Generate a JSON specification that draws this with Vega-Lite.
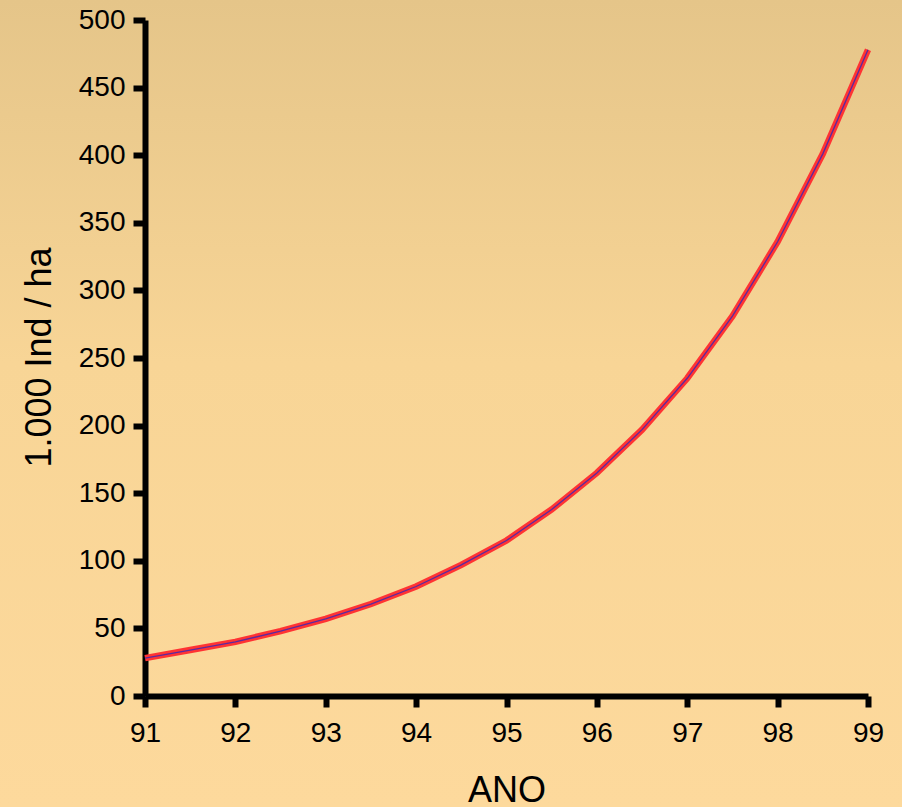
{
  "$schema": "https://vega.github.io/schema/vega-lite/v6.json",
  "width": 902,
  "height": 807,
  "autosize": {"type": "none"},
  "padding": 0,
  "background": "#F6D396",
  "config": {
    "font": "Liberation Sans",
    "view": {
      "stroke": null,
      "fill": {
        "gradient": "linear",
        "x1": 0, "y1": 0, "x2": 0, "y2": 1,
        "stops": [
          {"offset": 0, "color": "#E5C589"},
          {"offset": 0.45, "color": "#F8D596"},
          {"offset": 1, "color": "#FDD99C"}
        ]
      }
    },
    "axis": {
      "grid": false,
      "labelFlush": false,
      "labelOverlap": false,
      "domainColor": "#000000",
      "domainWidth": 6,
      "tickColor": "#000000",
      "tickWidth": 6,
      "labelColor": "#000000",
      "labelFont": "Liberation Sans",
      "labelFontSize": 28,
      "titleFont": "Liberation Sans",
      "titleFontSize": 36,
      "titleFontWeight": "normal",
      "titleColor": "#000000"
    }
  },
  "data": {
    "values": [
      {"ano": 91, "v": 28},
      {"ano": 91.5, "v": 34},
      {"ano": 92, "v": 40},
      {"ano": 92.5, "v": 48},
      {"ano": 93, "v": 57},
      {"ano": 93.5, "v": 68},
      {"ano": 94, "v": 81},
      {"ano": 94.5, "v": 97},
      {"ano": 95, "v": 115},
      {"ano": 95.5, "v": 138},
      {"ano": 96, "v": 165},
      {"ano": 96.5, "v": 197},
      {"ano": 97, "v": 235},
      {"ano": 97.5, "v": 281},
      {"ano": 98, "v": 336},
      {"ano": 98.5, "v": 401},
      {"ano": 99, "v": 478}
    ]
  },
  "encoding": {
    "x": {
      "field": "ano",
      "type": "quantitative",
      "scale": {"domain": [91, 99], "range": [145, 868], "nice": false, "zero": false},
      "axis": {
        "title": "ANO",
        "offset": -111,
        "values": [91, 92, 93, 94, 95, 96, 97, 98, 99],
        "format": "d",
        "tickSize": 11,
        "labelPadding": 12,
        "titleBaseline": "alphabetic",
        "titleY": 105
      }
    },
    "y": {
      "field": "v",
      "type": "quantitative",
      "scale": {"domain": [0, 500], "range": [696, 20], "nice": false},
      "axis": {
        "title": "1.000 Ind / ha",
        "offset": -145,
        "values": [0, 50, 100, 150, 200, 250, 300, 350, 400, 450, 500],
        "tickSize": 12,
        "labelPadding": 8,
        "titleAngle": -90,
        "titleBaseline": "alphabetic",
        "titleAlign": "center",
        "titleX": -95,
        "titleY": 357
      }
    }
  },
  "layer": [
    {"mark": {"type": "line", "color": "#FF3333", "strokeWidth": 6.5, "clip": false}},
    {"mark": {"type": "line", "color": "#5A2AA0", "strokeWidth": 1.3, "clip": false}}
  ]
}
